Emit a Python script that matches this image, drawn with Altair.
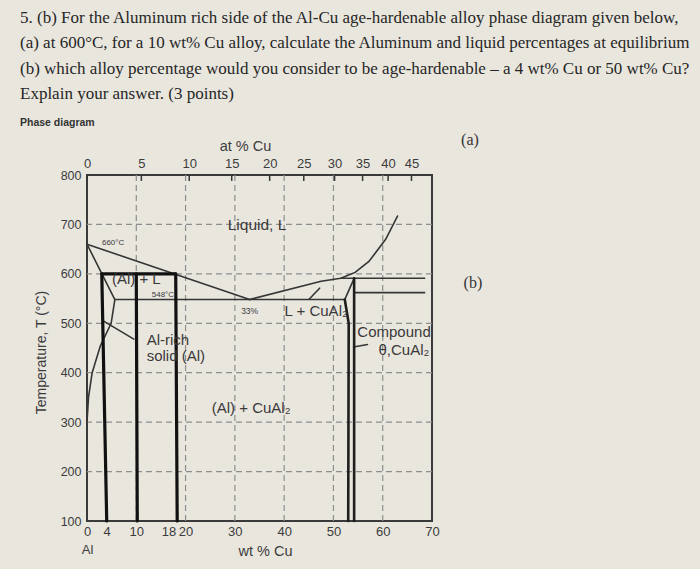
import altair as alt
import pandas as pd

# ---------------- axis values ----------------
WT_LABELS = [0, 4, 10, 18, 20, 30, 40, 50, 60, 70]
T_LABELS = [100, 200, 300, 400, 500, 600, 700, 800]
AT_LABELS = [0, 5, 10, 15, 20, 25, 30, 35, 40, 45]
GRID_WT = [10, 20, 30, 40, 50, 60]
GRID_T = [200, 300, 400, 500, 600, 700]

# ---------------- phase boundaries (wt % Cu, deg C) ----------------
LIQ_L_WT, LIQ_L_T = [0, 33], [660, 548]
LIQ_R_WT = [33, 47.5, 51.5, 54.4, 57.2, 60.6, 63.0]
LIQ_R_T = [548, 585, 591, 603, 625, 670, 717]
SOLIDUS_WT, SOLIDUS_T = [0, 5.65], [660, 548]
SOLVUS_WT = [5.65, 4.9, 2.7, 1.05, 0.3, 0]
SOLVUS_T = [548, 500, 454, 400, 350, 300]
EUTECTIC_WT, EUTECTIC_T = [5.65, 52.3], [548, 548]
THETA_TOP_WT, THETA_TOP_T = [52.3, 54.2], [548, 591]
PERITECTIC_WT, PERITECTIC_T = [51.5, 68.5], [591, 591]
SECOND_WT, SECOND_T = [54.2, 68.5], [562, 562]

# leader lines from labels
LEAD_AL_WT, LEAD_AL_T = [3.3, 9.5], [505, 468]
LEAD_LQ_WT, LEAD_LQ_T = [45.1, 47.2], [549, 571]
LEAD_TH_WT, LEAD_TH_T = [54.1, 56.9], [452, 457]

# theta (CuAl2) phase limits
THETA_L_WT, THETA_L_T = [52.3, 53.1, 53.0], [548, 500, 100]
THETA_R_WT, THETA_R_T = [54.2, 54.2], [591, 100]

# marked alloys and the 600 C tie line
TIE_WT, TIE_T = [3, 18], [600, 600]
ALLOY4_WT, ALLOY4_T = [3, 4], [600, 100]
ALLOY10_WT, ALLOY10_T = [10, 10.2], [600, 100]
ALLOY18_WT, ALLOY18_T = [18, 18.3], [600, 100]

# ---------------- region labels ----------------
LABEL_TEXT = ["Liquid, L", "(Al) + L", "548°C", "660°C", "33%", "L + CuAl₂",
              "Compound", "θ,CuAl₂", "(Al) + CuAl₂"]
LABEL_WT = [34.5, 10.0, 15.4, 5.3, 33.0, 46.5, 62.3, 64.3, 33.3]
LABEL_T = [698, 589, 558, 663, 524, 525, 483, 446, 328]
LABEL_SIZE = [15.5, 15, 8, 8, 8.5, 15, 15, 15, 15]

ALRICH_TEXT = ["Al-rich", "solid (Al)"]
ALRICH_WT = [12.1, 12.1]
ALRICH_T = [466, 433]

PART_TEXT = ["(a)", "(b)"]
PART_WT = [77.7, 78.3]
PART_T = [871, 581]

QUESTION = [
    "5. (b) For the Aluminum rich side of the Al-Cu age-hardenable alloy phase diagram given below,",
    "(a) at 600°C, for a 10 wt% Cu alloy, calculate the Aluminum and liquid percentages at equilibrium",
    "(b) which alloy percentage would you consider to be age-hardenable – a 4 wt% Cu or 50 wt% Cu?",
    "Explain your answer. (3 points)",
]

INK = "#353535"
AXIS_INK = "#3c3c3c"
SANS = "Liberation Sans"
SERIF = "Liberation Serif"


def at_to_wt(a):
    return 100 * a * 63.55 / (a * 63.55 + (100 - a) * 26.98)


AT_POS = [at_to_wt(a) for a in AT_LABELS]


def segments(pairs):
    rows = []
    for sid, (xs, ys) in enumerate(pairs):
        for i, (x, y) in enumerate(zip(xs, ys)):
            rows.append({"seg": sid, "i": i, "wt": x, "T": y})
    return pd.DataFrame(rows)


thin = segments([
    (LIQ_L_WT, LIQ_L_T), (LIQ_R_WT, LIQ_R_T), (SOLIDUS_WT, SOLIDUS_T),
    (SOLVUS_WT, SOLVUS_T), (EUTECTIC_WT, EUTECTIC_T), (THETA_TOP_WT, THETA_TOP_T),
    (PERITECTIC_WT, PERITECTIC_T), (SECOND_WT, SECOND_T),
    (LEAD_AL_WT, LEAD_AL_T), (LEAD_LQ_WT, LEAD_LQ_T), (LEAD_TH_WT, LEAD_TH_T),
])
theta = segments([(THETA_L_WT, THETA_L_T), (THETA_R_WT, THETA_R_T)])
heavy = segments([
    (TIE_WT, TIE_T), (ALLOY4_WT, ALLOY4_T), (ALLOY10_WT, ALLOY10_T), (ALLOY18_WT, ALLOY18_T),
])

xs = alt.Scale(domain=[0, 70], nice=False, zero=False)
ys = alt.Scale(domain=[100, 800], nice=False, zero=False)

# vertical grid carries the bottom (wt %) axis
vgrid = alt.Chart(pd.DataFrame({"wt": GRID_WT})).mark_rule(
    color="#8e8e8e", strokeDash=[6, 4], strokeWidth=1.2
).encode(
    x=alt.X("wt:Q", scale=xs, axis=alt.Axis(
        orient="bottom", values=WT_LABELS, ticks=False, domain=False, grid=False,
        labelFlush=False, labelOverlap=False, labelFont=SANS, labelFontSize=13,
        labelColor=AXIS_INK, labelPadding=4, labelLineHeight=18,
        labelAlign={"condition": {"test": "datum.value == 18", "value": "right"},
                    "value": "center"},
        labelExpr="datum.value == 0 ? ['0', 'Al'] : datum.label",
        title="wt % Cu", titleFont=SANS, titleFontSize=14.5, titleFontWeight="normal",
        titleColor=AXIS_INK, titleX=178, titleY=30, titleBaseline="middle",
    ))
)

# horizontal grid carries the temperature axis
hgrid = alt.Chart(pd.DataFrame({"T": GRID_T})).mark_rule(
    color="#8e8e8e", strokeDash=[6, 4], strokeWidth=1.2
).encode(
    y=alt.Y("T:Q", scale=ys, axis=alt.Axis(
        orient="left", values=T_LABELS, ticks=False, domain=False, grid=False,
        labelFont=SANS, labelFontSize=12.5, labelColor=AXIS_INK, labelPadding=6,
        title="Temperature, T (°C)", titleFont=SANS, titleFontSize=14,
        titleFontWeight="normal", titleColor=AXIS_INK,
        titleX=-46, titleY=177, titleAngle=-90, titleAlign="center", titleBaseline="middle",
    ))
)

# top (at %) axis with short inward ticks
top_ticks = alt.Chart(pd.DataFrame({"wt": AT_POS, "T": [800] * len(AT_POS),
                                    "T2": [788] * len(AT_POS)})).mark_rule(
    color=INK, strokeWidth=1.5
).encode(
    x=alt.X("wt:Q", scale=xs, axis=alt.Axis(
        orient="top", values=AT_POS, ticks=False, domain=False, grid=False,
        labelFlush=False, labelOverlap=False, labelFont=SANS, labelFontSize=13,
        labelColor=AXIS_INK, labelPadding=5,
        labelExpr="round(100*(datum.value/63.55)/(datum.value/63.55+(100-datum.value)/26.98))",
        title="at % Cu", titleFont=SANS, titleFontSize=14.5, titleFontWeight="normal",
        titleColor=AXIS_INK, titleX=158, titleY=-29, titleBaseline="middle",
    )),
    y=alt.Y("T:Q", scale=ys, axis=None),
    y2="T2:Q",
)


def line_layer(df, width, color):
    return alt.Chart(df).mark_line(color=color, strokeWidth=width, strokeCap="round").encode(
        x=alt.X("wt:Q", scale=xs, axis=None),
        y=alt.Y("T:Q", scale=ys, axis=None),
        detail="seg:N",
        order="i:Q",
    )


thin_lines = line_layer(thin, 1.6, INK)
theta_lines = line_layer(theta, 2.6, "#1e1e1e")
heavy_lines = line_layer(heavy, 3.2, "#111111")

labels = alt.Chart(pd.DataFrame({"text": LABEL_TEXT, "wt": LABEL_WT, "T": LABEL_T,
                                 "size": LABEL_SIZE})).mark_text(
    font=SANS, color="#3a3a3a", align="center", baseline="middle"
).encode(
    x=alt.X("wt:Q", scale=xs, axis=None),
    y=alt.Y("T:Q", scale=ys, axis=None),
    text="text:N",
    size=alt.Size("size:Q", scale=None, legend=None),
)

alrich = alt.Chart(pd.DataFrame({"text": ALRICH_TEXT, "wt": ALRICH_WT, "T": ALRICH_T})).mark_text(
    font=SANS, fontSize=15, color="#3a3a3a", align="left", baseline="middle"
).encode(
    x=alt.X("wt:Q", scale=xs, axis=None),
    y=alt.Y("T:Q", scale=ys, axis=None),
    text="text:N",
)

parts = alt.Chart(pd.DataFrame({"text": PART_TEXT, "wt": PART_WT, "T": PART_T})).mark_text(
    font=SERIF, fontSize=16, color="#333333", align="center", baseline="middle"
).encode(
    x=alt.X("wt:Q", scale=xs, axis=None),
    y=alt.Y("T:Q", scale=ys, axis=None),
    text="text:N",
)

chart = alt.layer(
    vgrid, hgrid, thin_lines, theta_lines, heavy_lines, top_ticks, labels, alrich, parts
).resolve_axis(
    x="independent", y="independent"
).properties(
    width=345,
    height=346,
    autosize=alt.AutoSizeParams(type="none"),
    padding={"left": 87, "top": 175, "right": 268, "bottom": 48},
    background="#e9e6de",
    title=alt.TitleParams(
        text=QUESTION,
        subtitle="Phase diagram",
        anchor="start",
        frame="group",
        orient="top",
        dx=-67,
        offset=2,
        font=SERIF,
        fontSize=17,
        fontWeight="normal",
        color="#262626",
        lineHeight=25.5,
        subtitleFont=SANS,
        subtitleFontSize=10.5,
        subtitleFontWeight="bold",
        subtitleColor="#333333",
        subtitlePadding=15,
    ),
).configure_view(
    stroke="#3a3a3a",
    strokeWidth=2,
)

chart.save("out.html", embed_options={"renderer": "svg", "actions": False})
